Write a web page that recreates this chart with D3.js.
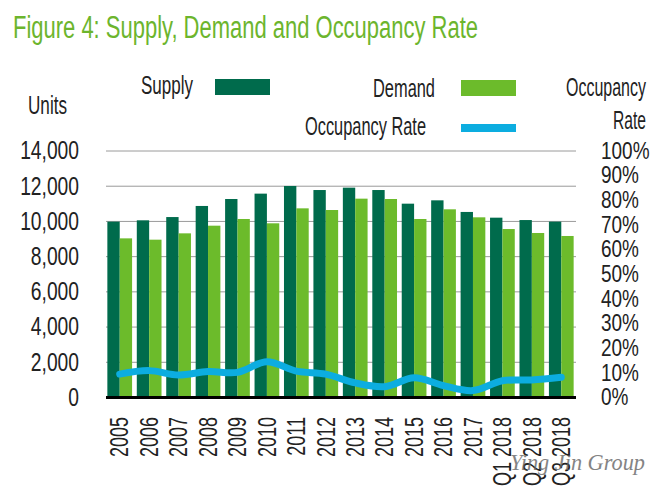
<!DOCTYPE html>
<html>
<head>
<meta charset="utf-8">
<script src="https://cdn.jsdelivr.net/npm/d3@7"></script>
<style>
  body { margin: 0; background: #fff; }
  text { font-family: "Liberation Sans", sans-serif; fill: #222; }
  .domain { display: none; }
</style>
</head>
<body>
<div id="chart"></div>
<script>
"use strict";

var categories = ["2005", "2006", "2007", "2008", "2009", "2010", "2011", "2012", "2013", "2014",
                  "2015", "2016", "2017", "Q1 2018", "Q2 2018", "Q3 2018"];
var supply = [9960, 10035, 10220, 10850, 11245, 11550, 11985, 11755, 11890, 11755,
              10980, 11170, 10510, 10185, 10050, 9960];
var demand = [9010, 8935, 9295, 9730, 10110, 9865, 10715, 10620, 11265, 11245,
              10110, 10660, 10205, 9540, 9315, 9145];
var occupancyRate = [9.3, 10.7, 8.9, 10.3, 10, 14.3, 10.5, 9.3, 5.7, 4.2,
                     7.8, 4.6, 2.6, 6.6, 6.9, 8];
var unitTicks = [0, 2000, 4000, 6000, 8000, 10000, 12000, 14000];
var rateTicks = [0, 10, 20, 30, 40, 50, 60, 70, 80, 90, 100];

var width = 655;
var height = 492;
var margin = {top: 150.5, right: 79, bottom: 95, left: 106};

var svg = d3.select("#chart").append("svg")
    .attr("width", width)
    .attr("height", height)
    .style("display", "block");

// the reference font is condensed, so narrow the glyphs of the measured text
function squeeze(selection, factor) {
  selection.each(function() {
    d3.select(this)
        .attr("textLength", this.getComputedTextLength() * factor)
        .attr("lengthAdjust", "spacingAndGlyphs");
  });
}

// set the ranges
var x = d3.scaleBand().domain(categories)
    .range([margin.left - 1, width - margin.right])
    .paddingInner(0.16).paddingOuter(0.08);
var xSub = d3.scaleBand().domain(["supply", "demand"]).range([0, x.bandwidth()]);
var yUnits = d3.scaleLinear().domain([0, 14000]).range([height - margin.bottom, margin.top]);
var yRate = d3.scaleLinear().domain([0, 100]).range([height - margin.bottom, margin.top]);

// left axis, its ticks are the gridlines
var leftAxis = svg.append("g")
    .attr("transform", "translate(" + margin.left + ",0)")
    .call(d3.axisLeft(yUnits).tickValues(unitTicks).tickFormat(d3.format(",")).tickSize(-470).tickPadding(27));
leftAxis.selectAll("line").attr("stroke", "#9a9a9a").attr("stroke-width", 1);
leftAxis.selectAll("text").style("font-size", "26px").call(squeeze, 0.74);

// right axis, the ticks sit close together
var rightAxis = svg.append("g")
    .attr("transform", "translate(601,0)")
    .call(d3.axisRight(yRate).tickValues(rateTicks).tickFormat(function(d) { return d + "%"; }).tickSize(0).tickPadding(0));
rightAxis.selectAll("text").style("font-size", "24px").call(squeeze, 0.79);

// bars
var groups = svg.append("g").selectAll("g")
    .data(categories)
    .join("g")
    .attr("transform", function(d) { return "translate(" + x(d) + ",0)"; });

groups.append("rect")
    .attr("x", xSub("supply"))
    .attr("width", xSub.bandwidth())
    .attr("y", function(d, i) { return yUnits(supply[i]); })
    .attr("height", function(d, i) { return yUnits(0) - yUnits(supply[i]); })
    .attr("fill", "#006b4c");

groups.append("rect")
    .attr("x", xSub("demand"))
    .attr("width", xSub.bandwidth())
    .attr("y", function(d, i) { return yUnits(demand[i]); })
    .attr("height", function(d, i) { return yUnits(0) - yUnits(demand[i]); })
    .attr("fill", "#6cbb2b");

// occupancy line
var rateLine = d3.line()
    .x(function(d, i) { return x(categories[i]) + x.bandwidth() / 2; })
    .y(function(d) { return yRate(d); })
    .curve(d3.curveCatmullRom);

svg.append("path")
    .attr("d", rateLine(occupancyRate))
    .attr("fill", "none")
    .attr("stroke", "#0cade0")
    .attr("stroke-width", 7)
    .attr("stroke-linecap", "round");

// x axis with the thick baseline
var bottomAxis = svg.append("g")
    .attr("transform", "translate(0," + yUnits(0) + ")")
    .call(d3.axisBottom(x).tickSize(0));
bottomAxis.selectAll("text")
    .attr("transform", "rotate(-90)")
    .attr("text-anchor", "end")
    .attr("x", -20)
    .attr("y", 0)
    .attr("dy", "0.35em")
    .style("font-size", "25px")
    .call(squeeze, 0.72);

svg.append("line")
    .attr("x1", margin.left).attr("x2", width - margin.right)
    .attr("y1", yUnits(0) + 0.5).attr("y2", yUnits(0) + 0.5)
    .attr("stroke", "#000")
    .attr("stroke-width", 3);

// title, legend and other labels
function label(str, left, baseline, length, size) {
  return svg.append("text")
      .attr("x", left)
      .attr("y", baseline)
      .attr("textLength", length)
      .attr("lengthAdjust", "spacingAndGlyphs")
      .style("font-size", size + "px")
      .text(str);
}

label("Figure 4: Supply, Demand and Occupancy Rate", 13, 38, 465, 31).style("fill", "#6cb52d");
label("Units", 28, 114, 39, 26);
label("Supply", 141, 94, 52, 26);
label("Demand", 373, 97, 62, 26);
label("Occupancy Rate", 305, 135, 121, 26);
label("Occupancy", 566, 96, 80, 26);
label("Rate", 613, 129, 33, 26);

svg.append("rect").attr("x", 215).attr("y", 79).attr("width", 55).attr("height", 16).attr("fill", "#006b4c");
svg.append("rect").attr("x", 461).attr("y", 80).attr("width", 55).attr("height", 16).attr("fill", "#6cbb2b");
svg.append("rect").attr("x", 461).attr("y", 124).attr("width", 55).attr("height", 8).attr("fill", "#0cade0");

// watermark
label("Ying Jin Group", 510, 470, 135, 24)
    .style("font-family", "'Liberation Serif', serif")
    .style("font-style", "italic")
    .style("fill", "#666")
    .style("opacity", 0.8);
</script>
</body>
</html>
